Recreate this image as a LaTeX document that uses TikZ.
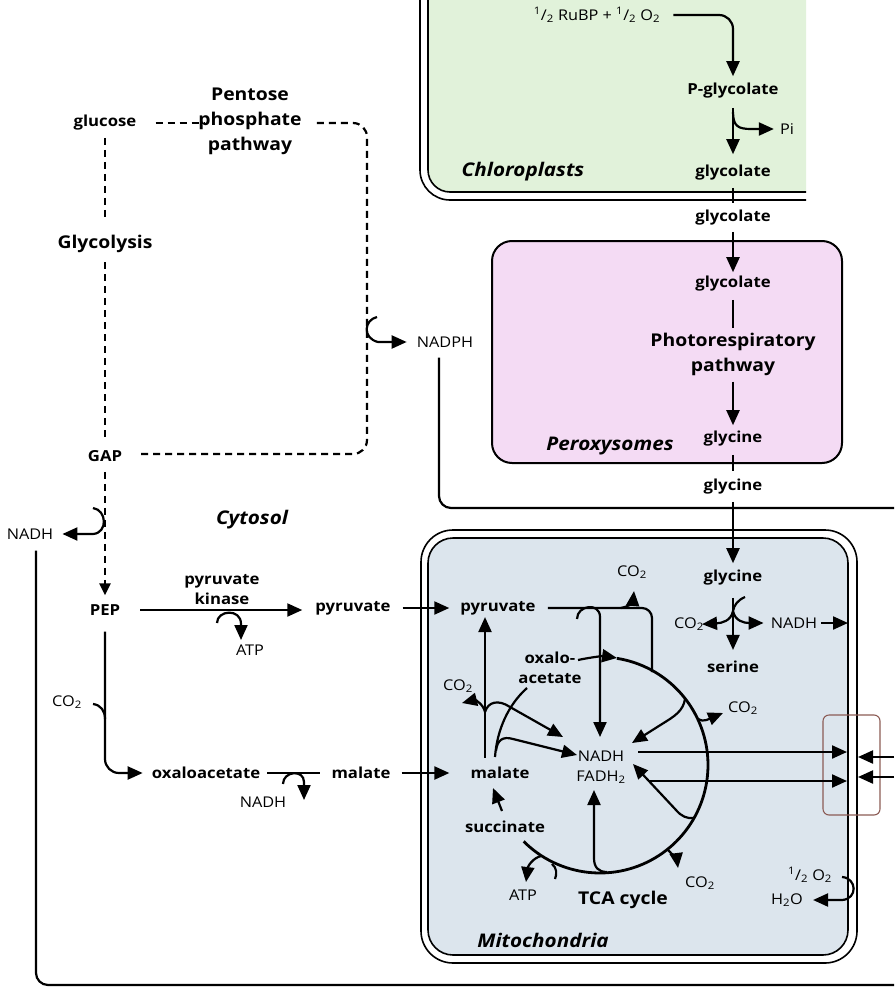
\documentclass[tikz,border=0pt]{standalone}
\usepackage{fontspec}
\setmainfont{Open Sans}[FakeStretch=1.1]
\usetikzlibrary{arrows.meta,calc}
\definecolor{chlgreen}{HTML}{E1F2DA}
\definecolor{perpink}{HTML}{F4DBF4}
\definecolor{mitblue}{HTML}{DCE5ED}
\definecolor{boxbrown}{HTML}{8C5C55}
\tikzset{
  lbl/.style={font=\fontsize{15.2}{20}\selectfont\bfseries, inner sep=1pt, align=center},
  sml/.style={font=\fontsize{14.8}{20}\selectfont, inner sep=1pt, align=center},
  big/.style={font=\fontsize{17.6}{25}\selectfont\bfseries, inner sep=1pt, align=center},
  comp/.style={font=\fontsize{18.8}{22}\selectfont\bfseries\itshape, inner sep=1pt},
  ar/.style={line width=2.2, -{Triangle[length=15pt,width=13pt]}},
  ln/.style={line width=2.2},
  dsh/.style={line width=2.2, dash pattern=on 7pt off 5pt},
  mem/.style={line width=1.6},
  tcaline/.style={line width=2.8},
}
\begin{document}
\begin{tikzpicture}[x=1pt,y=-1pt]
\useasboundingbox (0,0) rectangle (894,987);
% ---------- compartments
\begin{scope}
\clip (400,-1) rectangle (806,215);
\fill[chlgreen, rounded corners=22] (428,-40) rectangle (900,192);
\draw[mem, rounded corners=22] (428,-40) rectangle (900,192);
\draw[mem, rounded corners=30] (420,-40) rectangle (908,200);
\end{scope}
\draw[line width=2, fill=perpink, rounded corners=20] (492,241) rectangle (842,463);
\draw[mem, rounded corners=32] (421,530) rectangle (857,963);
\draw[mem, fill=mitblue, rounded corners=25] (428,538) rectangle (848,955);
\draw[boxbrown, line width=1.1, rounded corners=6] (823,715) rectangle (880,815);
% ---------- nodes: chloroplast / peroxisome
\node[sml] (rubp) at (597,15) {\textsuperscript{1}/\textsubscript{2} RuBP + \textsuperscript{1}/\textsubscript{2} O\textsubscript{2}};
\node[lbl] (pglyc) at (733,91) {P-glycolate};
\node[sml] (pi) at (787,129) {Pi};
\node[lbl] (glyc1) at (733,173) {glycolate};
\node[comp] (chl) at (523,172) {Chloroplasts};
\node[lbl] (glyc2) at (733,218) {glycolate};
\node[lbl] (glyc3) at (733,284) {glycolate};
\node[big] (photo) at (733,354) {Photorespiratory\\pathway};
\node[lbl] (gly1) at (733,439) {glycine};
\node[comp] (perox) at (610,446) {Peroxysomes};
\node[lbl] (gly2) at (733,487) {glycine};
% ---------- nodes: mitochondria
\node[lbl] (gly3) at (733,578) {glycine};
\node[sml] (co2g) at (689,624) {CO\textsubscript{2}};
\node[sml] (nadhg) at (794,623) {NADH};
\node[lbl] (serine) at (733,667) {serine};
\node[lbl] (pyrm) at (498,608) {pyruvate};
\node[sml] (co2p) at (632,572) {CO\textsubscript{2}};
\node[lbl] (oaa) at (550,668) {oxalo-\\acetate};
\node[sml] (co2m) at (458,686) {CO\textsubscript{2}};
\node[lbl] (malm) at (500,773) {malate};
\node[sml] (nadhm) at (601,767) {NADH\\FADH\textsubscript{2}};
\node[sml] (co2r) at (743,708) {CO\textsubscript{2}};
\node[lbl] (succ) at (505,827) {succinate};
\node[sml] (atp2) at (523,895) {ATP};
\node[big] (tca) at (623,900) {TCA cycle};
\node[sml] (co2b) at (700,883) {CO\textsubscript{2}};
\node[sml] (o2) at (810,875) {\textsuperscript{1}/\textsubscript{2} O\textsubscript{2}};
\node[sml] (h2o) at (787,900) {H\textsubscript{2}O};
\node[comp] (mito) at (543,940) {Mitochondria};
% ---------- nodes: cytosol
\node[lbl] (glucose) at (105,123) {glucose};
\node[big] (pentose) at (250,121) {Pentose\\phosphate\\pathway};
\node[big] (glycolysis) at (105,244) {Glycolysis};
\node[sml] (nadph) at (445,342) {NADPH};
\node[lbl] (gap) at (105,456) {GAP};
\node[sml] (nadhc) at (30,534) {NADH};
\node[comp] (cytosol) at (252,520) {Cytosol};
\node[lbl] (pep) at (105,610) {PEP};
\node[lbl] (pk) at (222,590) {pyruvate\\kinase};
\node[sml] (atp1) at (250,650) {ATP};
\node[lbl] (pyrc) at (353,608) {pyruvate};
\node[sml] (co2c) at (67,702) {CO\textsubscript{2}};
\node[lbl] (oaac) at (206,773) {oxaloacetate};
\node[sml] (nadhc2) at (263,802) {NADH};
\node[lbl] (malc) at (361,773) {malate};
% ---------- coordinates
\coordinate (eR1) at (894,508);
\coordinate (eR2) at (894,985);
\coordinate (pc1) at (367,123);
\coordinate (pc2) at (367,454);
\coordinate (gx) at (733,611);
\coordinate (mNg) at (848,623);
\coordinate (atpT) at (241,640);
\coordinate (co2h) at (93,704);
\coordinate (nadT2) at (304,800);
\coordinate (tcaP) at (652,672);
\coordinate (co2pT) at (634,591);
\coordinate (nT1) at (600,737);
\coordinate (oaaS) at (578,660);
\coordinate (tcaS) at (617,658);
\coordinate (mY) at (485,712);
\coordinate (co2mT) at (462,703);
\coordinate (nT3) at (563,737);
\coordinate (nT4) at (577,755);
\coordinate (nT5) at (632,743);
\coordinate (co2rT) at (723,713);
\coordinate (nT6) at (633,764);
\coordinate (co2bT) at (678,868);
\coordinate (fT) at (594,790);
\coordinate (atpT2) at (526,882);
\coordinate (sT) at (493,788);
\coordinate (o1s) at (638,752);
\coordinate (o1) at (847,752);
\coordinate (o2s) at (648,781);
\coordinate (o2t) at (847,781);
\coordinate (i1s) at (894,757);
\coordinate (i1t) at (858,757);
\coordinate (i2s) at (894,777);
\coordinate (i2t) at (858,777);
% ---------- chloroplast / peroxisome connectors
\draw[ar, rounded corners=14, shorten <=12, shorten >=6] (rubp.east) -| (pglyc.north);
\draw[ar, shorten <=8, shorten >=10] (pglyc.south) -- (glyc1.north);
\draw[ar, shorten >=5] (733,112) .. controls (733,126) and (738,129) .. (751,129) -- (pi.west);
\draw[ln, shorten <=6, shorten >=6] (glyc1.south) -- (glyc2.north);
\draw[ar, shorten <=5, shorten >=3] (glyc2.south) -- (glyc3.north);
\draw[ln, shorten <=7, shorten >=4] (glyc3.south) -- (photo.north);
\draw[ar, shorten <=5, shorten >=5] (photo.south) -- (gly1.north);
\draw[ln, shorten <=7, shorten >=7] (gly1.south) -- (gly2.north);
\draw[ar, shorten <=6, shorten >=6] (gly2.south) -- (gly3.north);
% ---------- glycine decarboxylase
\draw[ar, shorten <=11, shorten >=10] (gly3.south) -- (serine.north);
\draw[ln] (745,597) .. controls (738,600) and (734,605) .. (gx);
\draw[ar, shorten >=-3] (gx) .. controls (731,621) and (722,623) .. (co2g.east);
\draw[ar, shorten >=6] (gx) .. controls (735,621) and (744,623) .. (nadhg.west);
\draw[ar, shorten <=3] (nadhg.east) -- (mNg);
% ---------- long lines
\draw[ln, rounded corners=12] ([xshift=-6pt,yshift=-9pt]nadph.south) |- (eR1);
\draw[ln, rounded corners=12] ([xshift=6pt,yshift=-10pt]nadhc.south) |- (eR2);
% ---------- glycolysis / pentose phosphate
\draw[dsh, shorten <=6, shorten >=15] (glucose.south) -- (glycolysis.north);
\draw[dsh, shorten <=8, shorten >=10] (glycolysis.south) -- (gap.north);
\draw[dsh, shorten <=18, shorten >=-7] (glucose.east) -- (pentose.west |- glucose.east);
\draw[dsh, rounded corners=14, shorten <=14, shorten >=14] (pentose.east |- glucose.east) -- (pc1) -- (pc2) -- (gap.east |- pc2);
\draw[ar, shorten >=9] (377,317) .. controls (364,320) and (362,338) .. (378,342) -- (nadph.west);
\draw[dsh, -{Triangle[length=12pt,width=11pt]}, shorten <=9, shorten >=8] (gap.south) -- (pep.north);
\draw[ar, shorten >=8] (93,508) .. controls (107,510) and (108,533) .. (93,534) -- (nadhc.east);
% ---------- cytosol reactions
\draw[ar, shorten <=19, shorten >=12] (pep.east) -- (pep.east -| pyrc.west);
\draw[ar] (217,623) .. controls (217,610) and (241,608) .. (241,624) -- (atpT);
\draw[ar, shorten <=11, shorten >=10] (pyrc.east) -- (pyrm.west);
\draw[ar, rounded corners=14, shorten <=15, shorten >=8] (pep.south) |- (oaac.west);
\draw[ln] (co2h) .. controls (101,705) and (105,711) .. (105,719);
\draw[ln, shorten <=6, shorten >=10] (oaac.east) -- (malc.west);
\draw[ar] (283,784) .. controls (283,771) and (304,769) .. (304,782) -- (nadT2);
\draw[ar, shorten <=10, shorten >=20] (malc.east) -- (malm.west);
% ---------- mitochondria reactions
\draw[ar, shorten <=8, shorten >=1] ([xshift=-15pt]malm.north) -- ([xshift=-13pt]pyrm.south);
\draw[ln, rounded corners=10, shorten <=11] (pyrm.east) -| (tcaP);
\draw[ar] (621,608) .. controls (628,607) and (633,602) .. (co2pT);
\draw[ar] (577,619) .. controls (577,605) and (600,602) .. (600,617) -- (nT1);
\draw[ar] (oaaS) .. controls (592,657) and (604,656) .. (tcaS);
\draw[tcaline] plot[domain=-81:135, samples=90] ({600+108*cos(\x)},{765+108*sin(\x)});
\draw[ar] (mY) .. controls (483,703) and (474,700) .. (co2mT);
\draw[ar] (mY) .. controls (488,702) and (498,699) .. (510,707) -- (nT3);
\draw[ln] (527,688) .. controls (508,705) and (497,730) .. (495,757);
\draw[ar] (496,751) .. controls (497,740) and (503,736) .. (513,739) -- (nT4);
\draw[ar] (685,699) .. controls (683,711) and (675,716) .. (662,724) -- (nT5);
\draw[ar] (698,719) .. controls (703,723) and (711,718) .. (co2rT);
\draw[ar] (694,818) .. controls (687,819) and (681,816) .. (676,810) -- (nT6);
\draw[ar] (668,850) .. controls (673,855) and (677,860) .. (co2bT);
\draw[ar] (607,872) .. controls (598,872) and (594,867) .. (594,858) -- (fT);
\draw[ar] (541,856) .. controls (533,858) and (528,866) .. (atpT2);
\draw[ln] (552,864) .. controls (557,868) and (557,874) .. (555,879);
\draw[ar] (502,811) -- (sT);
\draw[ar] (o1s) -- (o1);
\draw[ar] (o2s) -- (o2t);
\draw[ar] (i1s) -- (i1t);
\draw[ar] (i2s) -- (i2t);
\draw[ar, shorten >=9] (842,877) .. controls (857,878) and (858,899) .. (842,900) -- (h2o.east);
\end{tikzpicture}
\end{document}
